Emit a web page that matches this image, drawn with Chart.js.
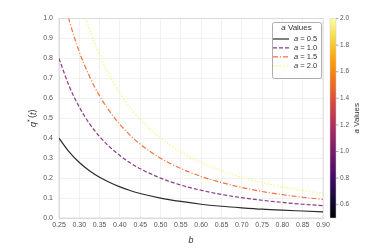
<!DOCTYPE html>
<html>
<head>
<meta charset="utf-8">
<script src="https://cdn.jsdelivr.net/npm/chart.js@4.4.1/dist/chart.umd.min.js"></script>
<style>
  html, body { margin: 0; padding: 0; background: #fff; }
  #wrap { width: 380px; height: 249px; }
</style>
</head>
<body>
<div id="wrap"><canvas id="myChart" width="380" height="249"></canvas></div>
<script>
// Datos
const bValues = [0.25, 0.275, 0.30, 0.325, 0.35, 0.375, 0.40, 0.425, 0.45, 0.50, 0.55, 0.60, 0.65, 0.70, 0.75, 0.80, 0.85, 0.90];
const qA05 = [0.400, 0.331, 0.278, 0.237, 0.204, 0.178, 0.156, 0.138, 0.123, 0.100, 0.083, 0.069, 0.059, 0.051, 0.044, 0.039, 0.035, 0.031];
const qA10 = [0.800, 0.661, 0.556, 0.473, 0.408, 0.356, 0.313, 0.277, 0.247, 0.200, 0.165, 0.139, 0.118, 0.102, 0.089, 0.078, 0.069, 0.062];
const qA15 = [1.200, 0.992, 0.833, 0.710, 0.612, 0.533, 0.469, 0.415, 0.370, 0.300, 0.248, 0.208, 0.178, 0.153, 0.133, 0.117, 0.104, 0.093];
const qA20 = [1.600, 1.322, 1.111, 0.947, 0.816, 0.711, 0.625, 0.554, 0.494, 0.400, 0.331, 0.278, 0.237, 0.204, 0.178, 0.156, 0.138, 0.123];
const aValues = [0.5, 1.0, 1.5, 2.0];
const xTicks = [0.25, 0.30, 0.35, 0.40, 0.45, 0.50, 0.55, 0.60, 0.65, 0.70, 0.75, 0.80, 0.85, 0.90];
const yTicks = [0.0, 0.1, 0.2, 0.3, 0.4, 0.5, 0.6, 0.7, 0.8, 0.9, 1.0];
const cbTicks = [0.6, 0.8, 1.0, 1.2, 1.4, 1.6, 1.8, 2.0];
const cbMin = 0.5, cbMax = 2.0;

// Paleta inferno
const inferno = ['#000004', '#160b39', '#420a68', '#6a176e', '#932667', '#bc3754',
                 '#dd513a', '#f37819', '#fca50a', '#f6d746', '#fcffa4'];
const lineColors = ['#2b2b2b', '#8a3d87', '#f0733c', '#f9f59a'];
const lineWidths = [1.2, 1.2, 1.2, 1.5];
const dashes = [[], [4, 2], [5, 2, 1, 2], [1.5, 1.8]];

const FONT = 'Liberation Sans, Arial, sans-serif';
const series = [qA05, qA10, qA15, qA20];

const datasets = series.map((vals, i) => ({
  label: 'a = ' + aValues[i].toFixed(1),
  data: bValues.map((b, j) => ({ x: b, y: vals[j] })),
  borderColor: lineColors[i],
  borderWidth: lineWidths[i],
  borderDash: dashes[i],
  pointRadius: 0,
  fill: false,
  cubicInterpolationMode: 'monotone'
}));

const extras = {
  id: 'extras',
  beforeDatasetsDraw(chart) {
    // Marco del área de trazado
    const ctx = chart.ctx;
    const a = chart.chartArea;
    ctx.save();
    ctx.strokeStyle = '#d6d6d6';
    ctx.lineWidth = 0.8;
    ctx.strokeRect(a.left, a.top, a.right - a.left, a.bottom - a.top);
    ctx.restore();
  },
  afterDraw(chart) {
    const ctx = chart.ctx;
    const area = chart.chartArea;
    ctx.save();

    // Título eje Y: q*(t)
    ctx.fillStyle = '#333';
    ctx.translate(33, (area.top + area.bottom) / 2);
    ctx.rotate(-Math.PI / 2);
    ctx.textBaseline = 'middle';
    const parts = [
      { t: 'q', f: 'italic 9px ' + FONT, dy: 0 },
      { t: '*', f: '7px ' + FONT, dy: -3 },
      { t: '(', f: '9px ' + FONT, dy: 0 },
      { t: 't', f: 'italic 9px ' + FONT, dy: 0 },
      { t: ')', f: '9px ' + FONT, dy: 0 }
    ];
    let total = 0;
    parts.forEach(p => { ctx.font = p.f; p.w = ctx.measureText(p.t).width + (p.t === '*' ? 1.5 : 0); total += p.w; });
    let px = -total / 2;
    parts.forEach(p => { ctx.font = p.f; ctx.fillText(p.t, px, p.dy); px += p.w; });
    ctx.restore();

    // Título eje X: b
    ctx.save();
    ctx.fillStyle = '#333';
    ctx.font = 'italic 9px ' + FONT;
    ctx.textAlign = 'center';
    ctx.textBaseline = 'middle';
    ctx.fillText('b', (area.left + area.right) / 2, 240);
    ctx.restore();

    // Leyenda
    ctx.save();
    const lx = 272, ly = 22, lw = 49, lh = 56;
    ctx.fillStyle = 'rgba(255,255,255,0.9)';
    ctx.strokeStyle = '#999';
    ctx.lineWidth = 0.8;
    ctx.beginPath();
    ctx.roundRect(lx + 0.5, ly + 0.5, lw, lh, 2);
    ctx.fill();
    ctx.stroke();
    ctx.fillStyle = '#333';
    ctx.textBaseline = 'middle';
    ctx.font = 'italic 8px ' + FONT;
    const t1 = 'a', t2 = ' Values';
    const w1 = ctx.measureText(t1).width;
    ctx.font = '8px ' + FONT;
    const w2 = ctx.measureText(t2).width;
    let tx = lx + lw / 2 - (w1 + w2) / 2;
    ctx.font = 'italic 8px ' + FONT;
    ctx.fillText(t1, tx, 28);
    ctx.font = '8px ' + FONT;
    ctx.fillText(t2, tx + w1, 28);
    datasets.forEach((ds, i) => {
      const y = 39 + i * 8.9;
      ctx.strokeStyle = ds.borderColor;
      ctx.lineWidth = ds.borderWidth;
      ctx.setLineDash(ds.borderDash);
      ctx.beginPath();
      ctx.moveTo(273, y);
      ctx.lineTo(289, y);
      ctx.stroke();
      ctx.setLineDash([]);
      ctx.fillStyle = '#333';
      ctx.font = 'italic 7.5px ' + FONT;
      ctx.fillText('a', 294, y);
      const wa = ctx.measureText('a').width;
      ctx.font = '7.5px ' + FONT;
      ctx.fillText(' = ' + aValues[i].toFixed(1), 294 + wa, y);
    });
    ctx.restore();

    // Barra de color
    ctx.save();
    const cx = 330, cw = 6, ct = area.top, cb = area.bottom;
    const grad = ctx.createLinearGradient(0, cb, 0, ct);
    inferno.forEach((c, i) => grad.addColorStop(i / (inferno.length - 1), c));
    ctx.fillStyle = grad;
    ctx.fillRect(cx, ct, cw, cb - ct);
    ctx.strokeStyle = '#ccc';
    ctx.lineWidth = 0.5;
    ctx.strokeRect(cx, ct, cw, cb - ct);
    ctx.fillStyle = '#555';
    ctx.strokeStyle = '#555';
    ctx.font = '6.5px ' + FONT;
    ctx.textBaseline = 'middle';
    cbTicks.forEach(v => {
      const y = cb - (v - cbMin) / (cbMax - cbMin) * (cb - ct);
      ctx.beginPath();
      ctx.moveTo(cx + cw, y);
      ctx.lineTo(cx + cw + 2.5, y);
      ctx.stroke();
      ctx.fillText(v.toFixed(1), cx + cw + 4, y);
    });
    // Etiqueta de la barra
    ctx.translate(357, (ct + cb) / 2);
    ctx.rotate(-Math.PI / 2);
    ctx.fillStyle = '#333';
    ctx.font = 'italic 8px ' + FONT;
    const wa2 = ctx.measureText('a').width;
    ctx.font = '8px ' + FONT;
    const wv = ctx.measureText(' Values').width;
    const sx = -(wa2 + wv) / 2;
    ctx.font = 'italic 8px ' + FONT;
    ctx.fillText('a', sx, 0);
    ctx.font = '8px ' + FONT;
    ctx.fillText(' Values', sx + wa2, 0);
    ctx.restore();
  }
};

new Chart(document.getElementById('myChart').getContext('2d'), {
  type: 'line',
  data: { datasets: datasets },
  options: {
    responsive: false,
    animation: false,
    layout: { padding: { left: 0, right: 57, top: 18.5, bottom: 0 } },
    plugins: { legend: { display: false }, tooltip: { enabled: false } },
    scales: {
      x: {
        type: 'linear',
        min: 0.25,
        max: 0.9,
        afterBuildTicks: s => { s.ticks = xTicks.map(v => ({ value: v })); },
        afterFit: s => { s.height = 31; },
        ticks: {
          color: '#555',
          font: { size: 7, family: FONT },
          padding: 3,
          maxRotation: 0,
          autoSkip: false,
          callback: v => v.toFixed(2)
        },
        grid: { color: '#ebebeb', lineWidth: 0.7, drawTicks: false },
        border: { color: '#d6d6d6', width: 0.8 }
      },
      y: {
        min: 0,
        max: 1,
        afterBuildTicks: s => { s.ticks = yTicks.map(v => ({ value: v })); },
        afterFit: s => { s.width = 59; },
        ticks: {
          color: '#555',
          font: { size: 7, family: FONT },
          padding: 6,
          callback: v => v.toFixed(1)
        },
        grid: { color: '#ebebeb', lineWidth: 0.7, drawTicks: false },
        border: { color: '#d6d6d6', width: 0.8 }
      }
    }
  },
  plugins: [extras]
});
</script>
</body>
</html>
